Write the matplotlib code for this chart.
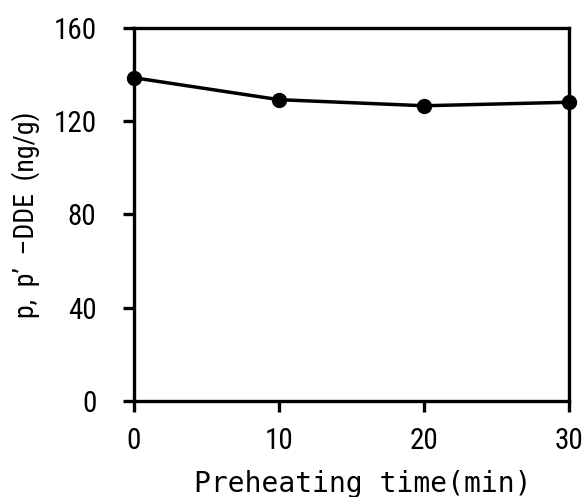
import matplotlib
matplotlib.use("Agg")
import matplotlib.pyplot as plt

# data
time_min = [0, 10, 20, 30]
dde_ng_g = [138.6, 129.2, 126.6, 128.1]

x_ticks = [0, 10, 20, 30]
y_ticks = [0, 40, 80, 120, 160]

narrow = ["Roboto Condensed", "Roboto", "DejaVu Sans"]
mono = ["DejaVu Sans Mono", "DejaVu Sans"]

fig = plt.figure(figsize=(5.85, 4.97), dpi=100)
ax = fig.add_axes([0.229, 0.193, 0.744, 0.751])

ax.plot(time_min, dde_ng_g, color="black", linewidth=2.5,
        marker="o", markersize=10, clip_on=False, zorder=3)

ax.set_xlim(0, 30)
ax.set_ylim(0, 160)
ax.set_xticks(x_ticks)
ax.set_yticks(y_ticks)

for s in ax.spines.values():
    s.set_linewidth(2.4)

ax.tick_params(axis="both", direction="out", length=8, width=2.4)
ax.tick_params(axis="x", pad=11)
ax.tick_params(axis="y", pad=19)
for lab in ax.get_xticklabels() + ax.get_yticklabels():
    lab.set_family(narrow)
    lab.set_fontsize(21)

ax.set_xlabel("Preheating time(min)", family=mono, fontsize=20.2, va="top")
ax.xaxis.set_label_coords(0.525, -0.185)
ax.set_ylabel("p,  p’  –DDE  (ng/g)", family=narrow, fontsize=20)
ax.yaxis.set_label_coords(-0.215, 0.5)

fig.savefig("out.png", dpi=100)
